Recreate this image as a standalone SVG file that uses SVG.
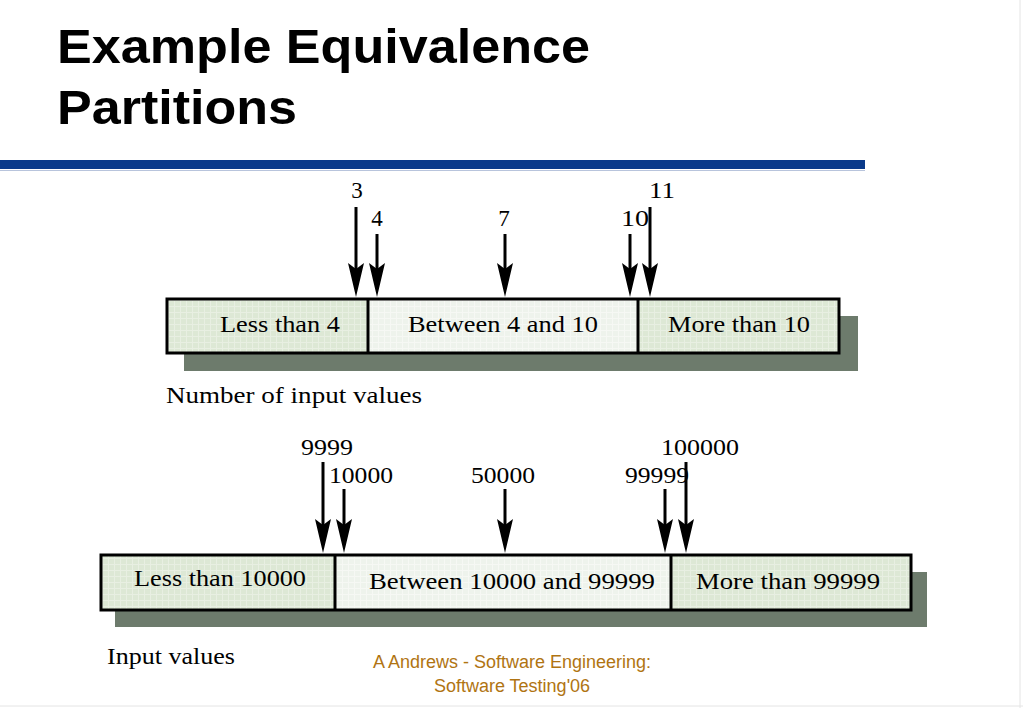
<svg xmlns="http://www.w3.org/2000/svg" width="1023" height="708" viewBox="0 0 1023 708">
<defs>
<marker id="ah" viewBox="0 0 34 16" markerWidth="34" markerHeight="16" refX="14" refY="8" orient="auto" markerUnits="userSpaceOnUse">
<path d="M0,0 L34,8 L0,16 L6,8 Z" fill="#000"/>
</marker>
<pattern id="grid" width="6" height="6" patternUnits="userSpaceOnUse">
<rect width="6" height="6" fill="#dde8d5"/>
<path d="M0,0.5H6M0.5,0V6" stroke="#e8efe2" stroke-width="1"/>
</pattern>
<pattern id="grid2" width="6" height="6" patternUnits="userSpaceOnUse">
<rect width="6" height="6" fill="#eef3ec"/>
<path d="M0,0.5H6M0.5,0V6" stroke="#f6f8f4" stroke-width="1"/>
</pattern>
</defs>
<style>
.title{font-family:"Liberation Sans",Arial,sans-serif;font-weight:bold;font-size:48px;fill:#000}
.lab{font-family:"Liberation Serif","Times New Roman",serif;font-size:23px;fill:#000}
.num{font-family:"Liberation Serif","Times New Roman",serif;font-size:23px;fill:#000;text-anchor:middle}
.foot{font-family:"Liberation Sans",Arial,sans-serif;font-size:18px;fill:#b07412;text-anchor:middle}
.box{stroke:#000;stroke-width:3}
.shadow{fill:#6d7b6c}
.arr{stroke:#000;stroke-width:3;marker-end:url(#ah)}
</style>
<rect width="1023" height="708" fill="#fff"/>
<line x1="1020" y1="0" x2="1020" y2="708" stroke="#e4e4e4" stroke-width="1"/>
<line x1="0" y1="706" x2="1023" y2="706" stroke="#e4e4e4" stroke-width="1"/>
<g id="title">
<text class="title" x="57" y="63" textLength="533" lengthAdjust="spacingAndGlyphs">Example Equivalence</text>
<text class="title" x="57" y="124" textLength="240" lengthAdjust="spacingAndGlyphs">Partitions</text>
</g>
<rect x="0" y="160" width="865" height="9" fill="#0a3a8a"/>
<line x1="0" y1="170.5" x2="865" y2="170.5" stroke="#b8c4dc" stroke-width="1"/>

<g id="partition1">
<rect class="shadow" x="184" y="316" width="674" height="55"/>
<rect x="167" y="299" width="201" height="54" fill="url(#grid)"/>
<rect x="368" y="299" width="270" height="54" fill="url(#grid2)"/>
<rect x="638" y="299" width="201" height="54" fill="url(#grid)"/>
<rect class="box" x="167" y="299" width="672" height="54" fill="none"/>
<line class="box" x1="368" y1="299" x2="368" y2="353"/>
<line class="box" x1="638" y1="299" x2="638" y2="353"/>
<text class="lab" x="220" y="332" textLength="120" lengthAdjust="spacingAndGlyphs">Less than 4</text>
<text class="lab" x="408" y="332" textLength="190" lengthAdjust="spacingAndGlyphs">Between 4 and 10</text>
<text class="lab" x="668" y="332" textLength="142" lengthAdjust="spacingAndGlyphs">More than 10</text>
</g>
<text id="caption1" class="lab" x="166" y="403" textLength="256" lengthAdjust="spacingAndGlyphs">Number of input values</text>

<g id="partition2">
<rect class="shadow" x="115" y="572" width="812" height="55"/>
<rect x="101" y="555" width="234" height="55" fill="url(#grid)"/>
<rect x="335" y="555" width="336" height="55" fill="url(#grid2)"/>
<rect x="671" y="555" width="240" height="55" fill="url(#grid)"/>
<rect class="box" x="101" y="555" width="810" height="55" fill="none"/>
<line class="box" x1="335" y1="555" x2="335" y2="610"/>
<line class="box" x1="671" y1="555" x2="671" y2="610"/>
<text class="lab" x="134" y="586" textLength="172" lengthAdjust="spacingAndGlyphs">Less than 10000</text>
<text class="lab" x="369" y="589" textLength="286" lengthAdjust="spacingAndGlyphs">Between 10000 and 99999</text>
<text class="lab" x="696" y="589" textLength="184" lengthAdjust="spacingAndGlyphs">More than 99999</text>
</g>
<text id="caption2" class="lab" x="107" y="664" textLength="128" lengthAdjust="spacingAndGlyphs">Input values</text>

<g id="connectors">
<line class="arr" x1="356" y1="207" x2="356" y2="277"/>
<line class="arr" x1="377" y1="234" x2="377" y2="277"/>
<line class="arr" x1="505" y1="234" x2="505" y2="277"/>
<line class="arr" x1="630" y1="234" x2="630" y2="277"/>
<line class="arr" x1="650" y1="207" x2="650" y2="277"/>
<line class="arr" x1="323" y1="462" x2="323" y2="533"/>
<line class="arr" x1="344" y1="489" x2="344" y2="533"/>
<line class="arr" x1="505" y1="489" x2="505" y2="533"/>
<line class="arr" x1="665" y1="489" x2="665" y2="533"/>
<line class="arr" x1="686" y1="462" x2="686" y2="533"/>
</g>
<g id="labels">
<text class="num" x="357" y="198">3</text>
<text class="num" x="377" y="226">4</text>
<text class="num" x="504" y="226">7</text>
<text class="num" x="635" y="226" textLength="28" lengthAdjust="spacingAndGlyphs">10</text>
<text class="num" x="662" y="198" textLength="26" lengthAdjust="spacingAndGlyphs">11</text>
<text class="num" x="327" y="455" textLength="52" lengthAdjust="spacingAndGlyphs">9999</text>
<text class="num" x="361" y="483" textLength="64" lengthAdjust="spacingAndGlyphs">10000</text>
<text class="num" x="503" y="483" textLength="64" lengthAdjust="spacingAndGlyphs">50000</text>
<text class="num" x="657" y="483" textLength="64" lengthAdjust="spacingAndGlyphs">99999</text>
<text class="num" x="700" y="455" textLength="78" lengthAdjust="spacingAndGlyphs">100000</text>
</g>
<g id="footer">
<text class="foot" x="512" y="668">A Andrews - Software Engineering:</text>
<text class="foot" x="512" y="692">Software Testing'06</text>
</g>
</svg>
